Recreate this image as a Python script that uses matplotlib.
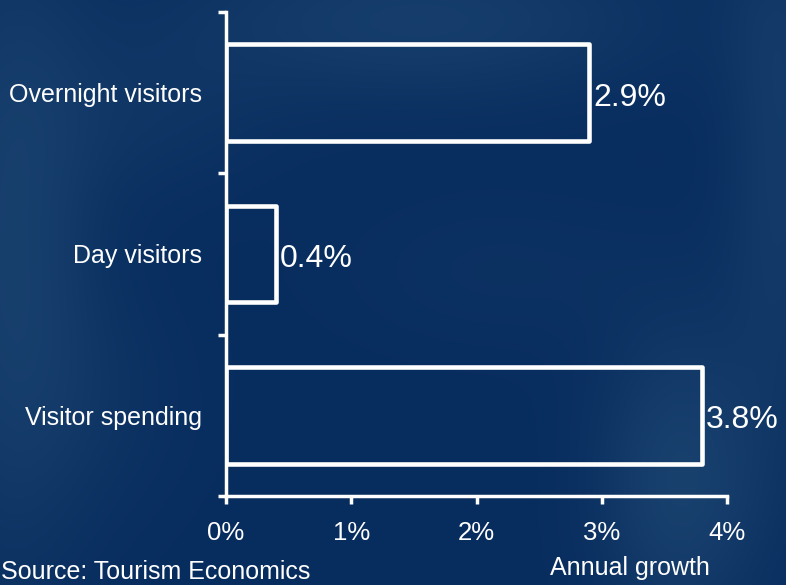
import numpy as np
import matplotlib
matplotlib.use("Agg")
import matplotlib.pyplot as plt

plt.rcParams['font.family'] = ['Liberation Sans', 'DejaVu Sans']

categories = ["Overnight visitors", "Day visitors", "Visitor spending"]
growth = [2.9, 0.4, 3.8]
value_labels = ["2.9%", "0.4%", "3.8%"]
x_ticks = [0, 1, 2, 3, 4]
x_tick_labels = ["0%", "1%", "2%", "3%", "4%"]

W, H = 786, 585
fig = plt.figure(figsize=(W / 100, H / 100), dpi=100)

# soft navy backdrop
yy, xx = np.mgrid[0:H, 0:W].astype(float)
base = np.array([7, 44, 94], dtype=float)
light = np.array([36, 78, 120], dtype=float)
w = np.zeros((H, W))
blobs = [
    (10, 250, 60, 220, 0.55),
    (420, 20, 180, 60, 0.5),
    (150, 120, 90, 60, 0.2),
    (680, 480, 60, 110, 0.6),
    (780, 150, 40, 200, 0.4),
    (500, 270, 120, 60, 0.15),
    (110, 400, 70, 90, 0.15),
]
for cx, cy, sx, sy, a in blobs:
    w += a * np.exp(-(((xx - cx) / sx) ** 2 + ((yy - cy) / sy) ** 2) / 2)
w = np.clip(w, 0, 1)
bg = base[None, None, :] * (1 - w[..., None]) + light[None, None, :] * w[..., None]
bg_ax = fig.add_axes([0, 0, 1, 1], zorder=0)
bg_ax.imshow(bg.astype(np.uint8), aspect='auto', interpolation='bilinear')
bg_ax.axis('off')

ax = fig.add_axes([226 / W, 1 - 496 / H, (727 - 226) / W, (496 - 12) / H], zorder=1)
ax.patch.set_alpha(0)

ypos = np.arange(len(categories))
ax.barh(ypos, growth, height=0.6, facecolor='none', edgecolor='white',
        linewidth=3.3, joinstyle='round')
for y, v, lab in zip(ypos, growth, value_labels):
    ax.text(v + 0.03, y + 0.03, lab, color='white', fontsize=23, va='center', ha='left')

ax.set_xlim(0, 4)
ax.set_ylim(2.5, -0.5)
ax.set_xticks(x_ticks)
ax.set_xticklabels(x_tick_labels)
ax.set_yticks(ypos)
ax.set_yticklabels(categories)
ax.set_yticks([-0.5, 0.5, 1.5, 2.5], minor=True)

for s in ['top', 'right']:
    ax.spines[s].set_visible(False)
for s in ['left', 'bottom']:
    ax.spines[s].set_color('white')
    ax.spines[s].set_linewidth(2.5)

ax.tick_params(axis='x', colors='white', labelsize=18.5, length=6, width=2.5,
               direction='out', pad=12)
ax.tick_params(axis='y', which='major', colors='white', labelsize=18, length=0, pad=17)
ax.tick_params(axis='y', which='minor', color='white', length=6, width=2.5, direction='out')

fig.text(630 / W, 1 - 568 / H, "Annual growth", color='white', fontsize=18,
         ha='center', va='center')
fig.text(1 / W, 1 / H, "Source: Tourism Economics", color='white', fontsize=18,
         ha='left', va='bottom')

fig.savefig("out.png", dpi=100)
